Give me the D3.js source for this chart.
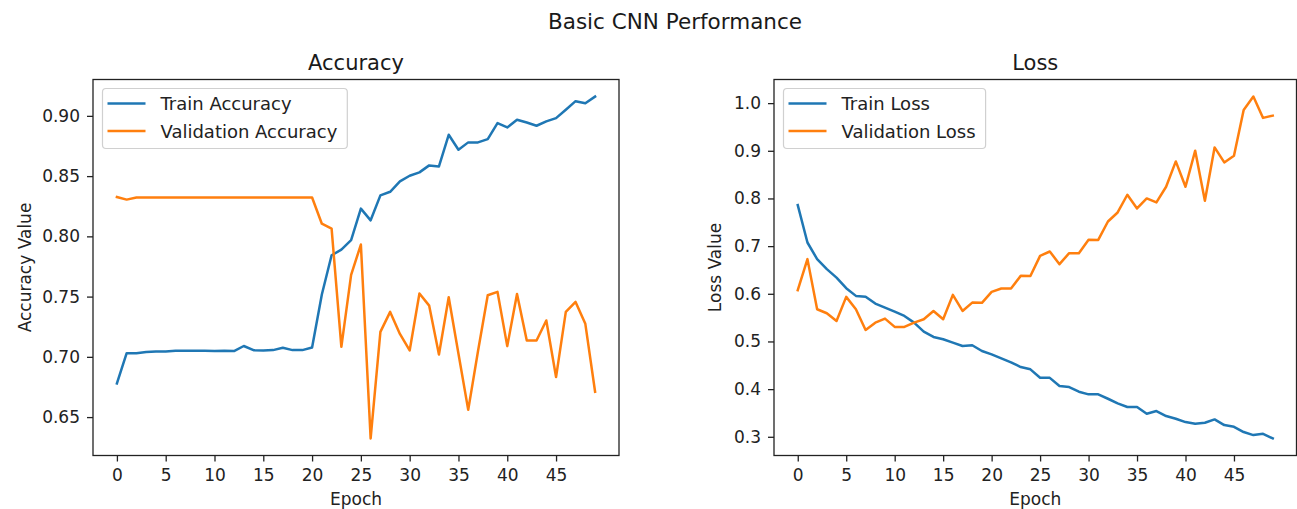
<!DOCTYPE html>
<html>
<head>
<meta charset="utf-8">
<script src="https://cdn.jsdelivr.net/npm/d3@7"></script>
<style>
  body { margin: 0; background: #fff; }
  svg { display: block; font-family: "DejaVu Sans", sans-serif; }
</style>
</head>
<body>
<svg id="chart" width="1297" height="509"></svg>
<script>
// values (50 epochs)
var trainAcc = [0.678, 0.703, 0.703, 0.704, 0.7045, 0.7045, 0.705, 0.705, 0.705, 0.705,
    0.7048, 0.705, 0.7048, 0.709, 0.7055, 0.7053, 0.7056, 0.7076, 0.7056, 0.7056,
    0.7078, 0.7517, 0.7843, 0.789, 0.7968, 0.823, 0.8133, 0.834, 0.837, 0.8456,
    0.8503, 0.8531, 0.8589, 0.858, 0.8843, 0.8719, 0.878, 0.878, 0.8807, 0.894,
    0.8904, 0.8968, 0.8945, 0.8918, 0.8954, 0.8981, 0.9051, 0.9122, 0.9105, 0.916];
var valAcc = [0.8326, 0.8305, 0.8322, 0.8322, 0.8322, 0.8322, 0.8322, 0.8322, 0.8322, 0.8322,
    0.8322, 0.8322, 0.8322, 0.8322, 0.8322, 0.8322, 0.8322, 0.8322, 0.8322, 0.8322,
    0.8322, 0.8105, 0.8064, 0.7083, 0.768, 0.7932, 0.6323, 0.7207, 0.7373, 0.719,
    0.7053, 0.7525, 0.7425, 0.702, 0.7495, 0.7025, 0.656, 0.7047, 0.7511, 0.7539,
    0.7089, 0.7522, 0.7136, 0.7136, 0.7302, 0.6832, 0.7373, 0.7456, 0.7274, 0.671];
var trainLoss = [0.786, 0.7076, 0.6727, 0.6517, 0.634, 0.6118, 0.5956, 0.594, 0.5794, 0.571,
    0.5626, 0.5536, 0.5395, 0.5206, 0.5095, 0.5046, 0.4975, 0.4905, 0.492, 0.48,
    0.473, 0.4645, 0.4563, 0.4464, 0.4415, 0.424, 0.4236, 0.4065, 0.4044, 0.3946,
    0.389, 0.389, 0.3798, 0.370, 0.3624, 0.3624, 0.3483, 0.354, 0.3435, 0.3378,
    0.3309, 0.3273, 0.3294, 0.3365, 0.3246, 0.321, 0.3099, 0.3036, 0.3063, 0.2966];
var valLoss = [0.6076, 0.6727, 0.5676, 0.5592, 0.543, 0.5935, 0.5676, 0.5242, 0.5395, 0.548,
    0.5305, 0.5305, 0.5395, 0.5466, 0.564, 0.5466, 0.5977, 0.564, 0.5815, 0.581,
    0.604, 0.611, 0.611, 0.6376, 0.6373, 0.6796, 0.6887, 0.6622, 0.6853, 0.685,
    0.7132, 0.713, 0.7517, 0.7706, 0.8078, 0.779, 0.80, 0.7916, 0.8246, 0.8777,
    0.8246, 0.9002, 0.7952, 0.9071, 0.8756, 0.8897, 0.9857, 1.0137, 0.969, 0.9737];

var epochs = d3.range(trainAcc.length);
var xTicks = [0, 5, 10, 15, 20, 25, 30, 35, 40, 45];
var accTicks = [0.65, 0.70, 0.75, 0.80, 0.85, 0.90];
var lossTicks = [0.3, 0.4, 0.5, 0.6, 0.7, 0.8, 0.9, 1.0];

var C_TRAIN = "#1f77b4", C_VAL = "#ff7f0e";
var svg = d3.select("#chart");

svg.append("text")
    .attr("x", 675).attr("y", 29)
    .attr("text-anchor", "middle")
    .style("font-size", "21.5px").style("fill", "#1a1a1a")
    .text("Basic CNN Performance");

function draw_panel(p) {
    var x = d3.scaleLinear().domain([-2.45, 51.45]).range([p.left, p.right]);
    var all = p.series[0].values.concat(p.series[1].values);
    var lo = d3.min(all), hi = d3.max(all), pad = (hi - lo) * 0.05;
    var y = d3.scaleLinear().domain([lo - pad, hi + pad]).range([p.bottom, p.top]);

    var g = svg.append("g");

    // lines
    var line = d3.line().x(function (d, i) { return x(epochs[i]); }).y(function (d) { return y(d); });
    p.series.forEach(function (s) {
        g.append("path")
            .datum(s.values)
            .attr("d", line)
            .attr("fill", "none")
            .attr("stroke", s.color)
            .attr("stroke-width", 2.5)
            .attr("stroke-linejoin", "round")
            .attr("stroke-linecap", "square");
    });

    // axes
    var ax = g.append("g").attr("transform", "translate(0," + p.bottom + ")")
        .call(d3.axisBottom(x).tickValues(xTicks).tickSize(6).tickPadding(7).tickSizeOuter(0));
    var ay = g.append("g").attr("transform", "translate(" + p.left + ",0)")
        .call(d3.axisLeft(y).tickValues(p.yTicks).tickFormat(d3.format(p.fmt)).tickSize(6).tickPadding(7).tickSizeOuter(0));
    [ax, ay].forEach(function (a) {
        a.select(".domain").remove();
        a.selectAll(".tick line").attr("stroke", "#222").attr("stroke-width", 1.3);
        a.selectAll(".tick text").style("font-size", "17px").style("font-family", "DejaVu Sans").attr("fill", "#222");
    });

    // spines
    g.append("rect")
        .attr("x", p.left).attr("y", p.top)
        .attr("width", p.right - p.left).attr("height", p.bottom - p.top)
        .attr("fill", "none").attr("stroke", "#222").attr("stroke-width", 1.3);

    g.append("text")
        .attr("x", (p.left + p.right) / 2).attr("y", 70)
        .attr("text-anchor", "middle")
        .style("font-size", "21px").style("fill", "#1a1a1a")
        .text(p.title);
    g.append("text")
        .attr("x", (p.left + p.right) / 2).attr("y", 505)
        .attr("text-anchor", "middle")
        .style("font-size", "17px").style("fill", "#222")
        .text("Epoch");
    g.append("text")
        .attr("transform", "translate(" + p.ylabX + "," + (p.top + p.bottom) / 2 + ")rotate(-90)")
        .attr("text-anchor", "middle")
        .style("font-size", "17px").style("fill", "#222")
        .text(p.ylabel);

    // legend
    var lx = p.left + 9.5, ly = p.top + 9;
    var leg = g.append("g");
    var box = leg.append("rect")
        .attr("x", lx).attr("y", ly).attr("height", 60)
        .attr("rx", 3.5)
        .attr("fill", "#fff").attr("fill-opacity", 0.8)
        .attr("stroke", "#d0d0d0").attr("stroke-width", 1.2);
    var maxLen = 0;
    p.series.forEach(function (s, i) {
        var cy = ly + 15 + i * 27.5;
        leg.append("line")
            .attr("x1", lx + 5).attr("x2", lx + 43)
            .attr("y1", cy).attr("y2", cy)
            .attr("stroke", s.color).attr("stroke-width", 2.5);
        var t = leg.append("text")
            .attr("x", lx + 58).attr("y", cy + 6.5)
            .style("font-size", "18px").style("fill", "#222")
            .text(s.name);
        maxLen = Math.max(maxLen, t.node().getComputedTextLength());
    });
    box.attr("width", maxLen + 68);
}

draw_panel({
    left: 93, right: 619, top: 79.5, bottom: 455.5,
    title: "Accuracy", ylabel: "Accuracy Value", ylabX: 30.5,
    yTicks: accTicks, fmt: ".2f",
    series: [
        { name: "Train Accuracy", values: trainAcc, color: C_TRAIN },
        { name: "Validation Accuracy", values: valAcc, color: C_VAL }
    ]
});

draw_panel({
    left: 774, right: 1296.5, top: 79.5, bottom: 455.5,
    title: "Loss", ylabel: "Loss Value", ylabX: 720.5,
    yTicks: lossTicks, fmt: ".1f",
    series: [
        { name: "Train Loss", values: trainLoss, color: C_TRAIN },
        { name: "Validation Loss", values: valLoss, color: C_VAL }
    ]
});
</script>
</body>
</html>
